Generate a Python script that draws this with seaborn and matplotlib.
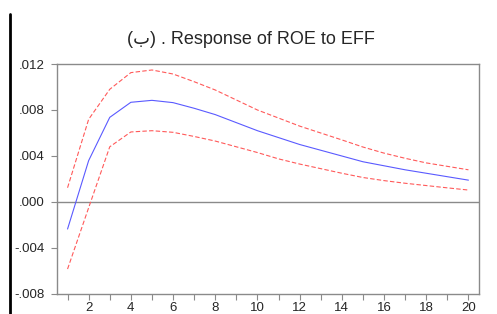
import pandas as pd
import matplotlib.pyplot as plt
import seaborn as sns
from matplotlib.lines import Line2D

# Impulse response of ROE to EFF, with +/- 2 S.E. bands
periods = list(range(1, 21))
response = [-0.00235, 0.0036, 0.00736, 0.00867, 0.00884, 0.00864, 0.00815, 0.0076,
            0.0069, 0.0062, 0.0056, 0.0050, 0.0045, 0.0040, 0.0035, 0.00315,
            0.0028, 0.0025, 0.0022, 0.0019]
upper = [0.00124, 0.00719, 0.0098, 0.01125, 0.01148, 0.01113, 0.01046, 0.00974,
         0.00887, 0.0080, 0.0073, 0.0066, 0.0060, 0.0054, 0.00478, 0.00425,
         0.0038, 0.0034, 0.0031, 0.0028]
lower = [-0.00583, -0.0005, 0.0048, 0.00609, 0.0062, 0.00606, 0.0057, 0.0053,
         0.0048, 0.0043, 0.00375, 0.0033, 0.0029, 0.0025, 0.00213, 0.00186,
         0.00163, 0.00143, 0.00123, 0.00104]
y_ticks = [-0.008, -0.004, 0.000, 0.004, 0.008, 0.012]
y_labels = ['-.008', '-.004', '.000', '.004', '.008', '.012']

df = pd.DataFrame({'period': periods, 'response': response,
                   'upper': upper, 'lower': lower})

sns.set_style('white')
plt.rcParams['font.family'] = ['Liberation Sans', 'DejaVu Sans']

fig = plt.figure(figsize=(4.97, 3.14), dpi=100)
ax = fig.add_axes([57 / 497, 20 / 314, 422 / 497, 230 / 314])

sns.lineplot(data=df, x='period', y='upper', ax=ax, color='#ff5a5a',
             linewidth=0.8, linestyle=(0, (4, 2)))
sns.lineplot(data=df, x='period', y='lower', ax=ax, color='#ff5a5a',
             linewidth=0.8, linestyle=(0, (4, 2)))
sns.lineplot(data=df, x='period', y='response', ax=ax, color='#5a5aff',
             linewidth=0.8)
ax.axhline(0, color='#8a8a8a', linewidth=1.0, zorder=0)

ax.set_xlim(0.5, 20.5)
ax.set_ylim(-0.008, 0.012)
ax.set_xticks(periods)
ax.set_xticklabels(['' if p % 2 else str(p) for p in periods], fontsize=9.5)
ax.set_yticks(y_ticks)
ax.set_yticklabels(y_labels, fontsize=9.5)
ax.set_xlabel('')
ax.set_ylabel('')
ax.tick_params(axis='both', direction='out', length=4, width=0.8,
               color='#8a8a8a', bottom=True, left=True)
ax.tick_params(axis='y', pad=5)
ax.tick_params(axis='x', pad=2)

for s in ax.spines.values():
    s.set_color('#8a8a8a')
    s.set_linewidth(1.0)

fig.text(251 / 497, 1 - 39 / 314, '(ب) . Response of ROE to EFF',
         ha='center', va='center', fontsize=13)

# vertical frame rule at the left edge of the picture
fig.add_artist(Line2D([10 / 497, 10 / 497], [0, 1 - 14 / 314],
                      color='black', linewidth=2.0))

fig.savefig('out.png', dpi=100)
